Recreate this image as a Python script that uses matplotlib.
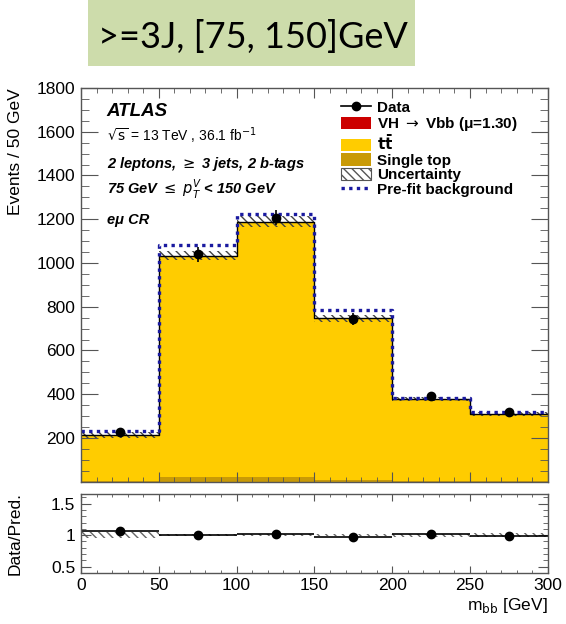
import matplotlib
matplotlib.use("Agg")
import matplotlib.pyplot as plt
import numpy as np
from matplotlib.lines import Line2D
from matplotlib.patches import Patch, Rectangle
from matplotlib.ticker import MultipleLocator

plt.rcParams["font.family"] = ["Liberation Sans", "DejaVu Sans"]
plt.rcParams["hatch.linewidth"] = 1.0

# m_bb bins [GeV]
bin_edges = [0, 50, 100, 150, 200, 250, 300]

# post-fit stack (events / 50 GeV)
vh_signal = [0.5, 1.0, 1.0, 0.5, 0.3, 0.2]
ttbar = [209, 1011, 1168, 737, 374, 308]
single_top = [3, 22, 20, 9, 3, 3]
uncertainty = [14, 22, 24, 17, 10, 9]

data = [228, 1039, 1207, 746, 392, 321]
prefit_bkg = [233, 1081, 1226, 784, 382, 320]

# ratio panel
ratio = [1.06, 1.00, 1.01, 0.97, 1.02, 0.99]
ratio_unc = [0.045, 0.02, 0.02, 0.022, 0.025, 0.028]

legend_labels = ["Data", r"VH $\rightarrow$ Vbb (μ=1.30)", r"$\mathbf{t\bar{t}}$",
                 "Single top", "Uncertainty", "Pre-fit background"]

YELLOW = "#ffcc00"
GOLD = "#c99a06"
RED = "#cc0000"
FRAME = "#555555"

edges = np.array(bin_edges, dtype=float)
centers = 0.5 * (edges[1:] + edges[:-1])
half = 0.5 * np.diff(edges)

st = np.array(single_top)
tt = st + np.array(ttbar)
tot = tt + np.array(vh_signal)
unc = np.array(uncertainty)


def step(vals):
    return np.append(vals, vals[-1])


fig = plt.figure(figsize=(5.66, 6.24), dpi=100)
ax = fig.add_axes([0.143, 0.228, 0.825, 0.631])
rax = fig.add_axes([0.143, 0.082, 0.825, 0.126])

# stacked histograms
ax.fill_between(edges, 0, step(st), step="post", color=GOLD, lw=0)
ax.fill_between(edges, step(st), step(tt), step="post", color=YELLOW, lw=0)
ax.fill_between(edges, step(tt), step(tot), step="post", color=RED, lw=0)
ax.fill_between(edges, step(tot - unc), step(tot + unc), step="post",
                facecolor="none", edgecolor="#444444", hatch="\\\\\\\\", lw=0)
ax.step(edges, step(tot), where="post", color="black", lw=1.0)
ax.step(edges, step(prefit_bkg), where="post", color="#1a1aa0", lw=2.4,
        linestyle=(0, (1, 1.3)))
ax.errorbar(centers, data, yerr=np.sqrt(data), fmt="o", color="black",
            ms=6, lw=1.2, capsize=0)

ax.set_xlim(0, 300)
ax.set_ylim(0, 1800)
ax.set_yticks(np.arange(200, 1801, 200))
ax.yaxis.set_minor_locator(MultipleLocator(50))
ax.xaxis.set_major_locator(MultipleLocator(50))
ax.xaxis.set_minor_locator(MultipleLocator(10))
ax.set_xticklabels([])
ax.set_ylabel("Events / 50 GeV", fontsize=12.5, loc="top")
ax.yaxis.set_label_coords(-0.125, 1.0)

# ratio panel
rax.fill_between(edges, step(1 - np.array(ratio_unc)), step(1 + np.array(ratio_unc)),
                 step="post", facecolor="none", edgecolor="#666666",
                 hatch="\\\\\\\\", lw=0)
rax.errorbar(centers, ratio, xerr=half, yerr=np.sqrt(data) / tot, fmt="o",
             color="black", ms=6, lw=1.2, capsize=0)
rax.set_xlim(0, 300)
rax.set_ylim(0.4, 1.65)
rax.set_yticks([0.5, 1, 1.5])
rax.set_yticklabels(["0.5", "1", "1.5"])
rax.yaxis.set_minor_locator(MultipleLocator(0.1))
rax.xaxis.set_major_locator(MultipleLocator(50))
rax.xaxis.set_minor_locator(MultipleLocator(10))
rax.set_ylabel("Data/Pred.", fontsize=12.5)
rax.yaxis.set_label_coords(-0.125, 0.5)
rax.set_xlabel(r"m$_{\rm bb}$ [GeV]", fontsize=12.5, loc="right", labelpad=2)

for a, ymaj, ymin, xmaj, xmin in [(ax, 12, 6, 7, 3.5), (rax, 7, 3.5, 5, 2.5)]:
    a.tick_params(which="both", direction="in", top=True, right=True,
                  color=FRAME, labelsize=12.5, pad=4)
    a.tick_params(axis="y", which="major", length=ymaj)
    a.tick_params(axis="y", which="minor", length=ymin)
    a.tick_params(axis="x", which="major", length=xmaj)
    a.tick_params(axis="x", which="minor", length=xmin)
    for s in a.spines.values():
        s.set_color(FRAME)
        s.set_linewidth(1.0)

# labels
ax.text(0.055, 0.94, "ATLAS", transform=ax.transAxes, fontsize=13.5,
        fontweight="bold", style="italic", va="center")
ax.text(0.055, 0.878, r"$\sqrt{\rm s}$ = 13 TeV , 36.1 fb$^{-1}$",
        transform=ax.transAxes, fontsize=10, va="center")
ax.text(0.055, 0.807, r"2 leptons, $\geq$ 3 jets, 2 b-tags",
        transform=ax.transAxes, fontsize=10.5, fontweight="bold",
        style="italic", va="center")
ax.text(0.055, 0.743,
        r"75 GeV $\leq$ $\mathbf{\mathit{p}}_{\mathbf{\mathit{T}}}^{\mathbf{\mathit{V}}}$ < 150 GeV",
        transform=ax.transAxes, fontsize=10.5, fontweight="bold",
        style="italic", va="center")
ax.text(0.055, 0.665, "eμ CR", transform=ax.transAxes, fontsize=10.5,
        fontweight="bold", style="italic", va="center")

handles = [
    Line2D([], [], color="black", marker="o", ms=6, lw=1.2),
    Patch(facecolor=RED, edgecolor="none"),
    Patch(facecolor=YELLOW, edgecolor="none"),
    Patch(facecolor=GOLD, edgecolor="none"),
    Patch(facecolor="white", edgecolor="#555555", hatch="\\\\\\\\", lw=0.8),
    Line2D([], [], color="#1a1aa0", lw=2.4, linestyle=(0, (1, 1.3))),
]
leg = ax.legend(handles, legend_labels, loc="upper left",
                bbox_to_anchor=(0.53, 1.0), frameon=False,
                prop={"size": 11, "weight": "bold"}, handlelength=2.0,
                handleheight=0.85, labelspacing=0.02, handletextpad=0.4,
                borderaxespad=0.4)

# title box
fig.patches.append(Rectangle((88 / 566, 1 - 66 / 624), 327 / 566, 66 / 624,
                             transform=fig.transFigure, facecolor="#cddcab",
                             edgecolor="none", zorder=0))
fig.text(98 / 566, 1 - 37 / 624, ">=3J, [75, 150]GeV", fontsize=26,
         family=["Lato", "DejaVu Sans"], va="center", ha="left")

fig.savefig("out.png", dpi=100)
